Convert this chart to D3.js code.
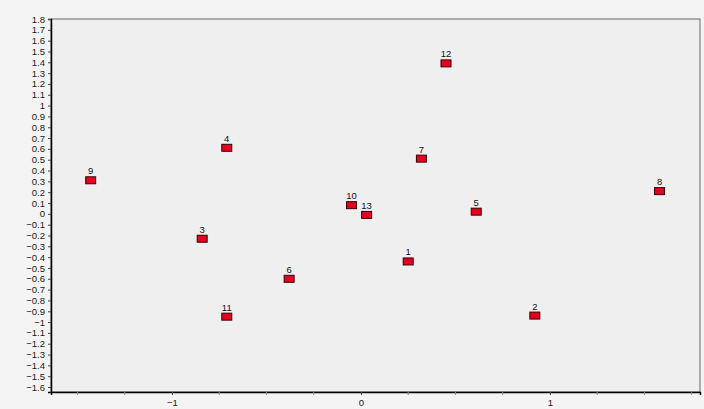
<!DOCTYPE html>
<html><head><meta charset="utf-8">
<script src="https://cdn.jsdelivr.net/npm/d3@7"></script>
<style>
html,body{margin:0;padding:0;background:#f4f4f4;}
svg{display:block;}
</style></head>
<body>
<svg id="chart" width="704" height="409"></svg>
<script>
const labels = ["1","2","3","4","5","6","7","8","9","10","11","12","13"];
const xValues = [0.25, 0.92, -0.84, -0.71, 0.61, -0.38, 0.32, 1.58, -1.43, -0.05, -0.71, 0.45, 0.03];
const yValues = [-0.44, -0.94, -0.23, 0.61, 0.02, -0.60, 0.51, 0.21, 0.31, 0.08, -0.95, 1.39, -0.01];
const xTickLabels = [-1, 0, 1];
const xMinorTicks = [-1.5, -1.25, -0.75, -0.5, -0.25, 0.25, 0.5, 0.75, 1.25, 1.5, 1.75];
const yTickTenths = d3.range(-16, 19); // -1.6 .. 1.8

const data = labels.map((l, i) => ({label: l, x: xValues[i], y: yValues[i]}));

const svg = d3.select("#chart");
const pLeft = 51, pRight = 700, pTop = 19, pBottom = 392;
const x = d3.scaleLinear().domain([-1.64, 1.794]).range([pLeft, pRight]);
const y = d3.scaleLinear().domain([-1.646, 1.8]).range([pBottom, pTop]);

svg.append("rect").attr("x", pLeft).attr("y", pTop).attr("width", pRight - pLeft).attr("height", pBottom - pTop)
  .attr("fill", "#efefef").attr("stroke", "#666").attr("stroke-width", 1);

const fmt = v => (v < 0 ? "\u2212" : "") + d3.format("~g")(Math.abs(v));
const FONT = "Liberation Sans, Arial, sans-serif";

// Y axis
const yAxis = d3.axisLeft(y).tickValues(yTickTenths.map(t => t / 10)).tickSize(3).tickPadding(3)
  .tickFormat(v => fmt(Math.round(v * 10) / 10));
const gy = svg.append("g").attr("transform", `translate(${pLeft},0)`).call(yAxis);
gy.select(".domain").attr("stroke", "#000").attr("stroke-width", 1.5);
gy.selectAll(".tick line").attr("stroke", "#444");
gy.selectAll("text").attr("font-family", FONT).attr("font-size", 9.5).attr("fill", "#1a1a1a");

// X axis
const xAxis = d3.axisBottom(x).tickValues(xTickLabels).tickSize(3).tickPadding(4).tickFormat(fmt);
const gx = svg.append("g").attr("transform", `translate(0,${pBottom})`).call(xAxis);
gx.select(".domain").attr("stroke", "#000").attr("stroke-width", 1.5);
gx.selectAll(".tick line").attr("stroke", "#444");
gx.selectAll("text").attr("font-family", FONT).attr("font-size", 9.5).attr("fill", "#1a1a1a");
gx.selectAll(".minor").data(xMinorTicks).enter().append("line").attr("class", "minor")
  .attr("x1", d => x(d)).attr("x2", d => x(d)).attr("y1", 0).attr("y2", 3).attr("stroke", "#888");

// points
const g = svg.append("g");
g.selectAll("rect.pt").data(data).enter().append("rect").attr("class", "pt")
  .attr("x", d => x(d.x) - 5).attr("y", d => y(d.y) - 3.5).attr("width", 10).attr("height", 7)
  .attr("fill", "#e60020").attr("stroke", "#3a0008").attr("stroke-width", 1);
g.selectAll("text.lbl").data(data).enter().append("text").attr("class", "lbl")
  .attr("x", d => x(d.x)).attr("y", d => y(d.y) - 6).attr("text-anchor", "middle")
  .attr("font-family", FONT).attr("font-size", 9.5).attr("fill", "#111")
  .text(d => d.label);
</script>
</body></html>
